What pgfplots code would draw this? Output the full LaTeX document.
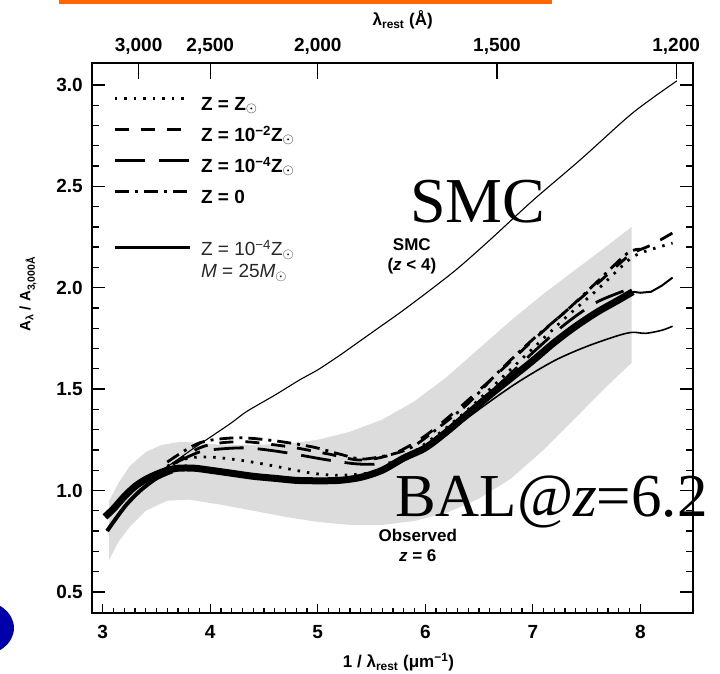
\documentclass[border=0pt]{standalone}
\usepackage{fontspec}
\setmainfont{Liberation Sans}
\newfontfamily\timesf{Liberation Serif}
\usepackage{pgfplots}
\usepackage{pgfplotstable}
\pgfplotsset{compat=1.18}
\definecolor{bandgray}{RGB}{220,220,220}
\definecolor{orangebar}{RGB}{255,102,0}
\definecolor{blueblob}{RGB}{0,0,170}
\newcommand\tk{\fontsize{19}{22}\selectfont\bfseries}
\newcommand\sm{\fontsize{17}{20}\selectfont\bfseries}
\newcommand\lb{\fontsize{17}{20}\selectfont\bfseries}

\pgfplotstableread{
x y
3.06 0.95
3.15 1.04
3.25 1.12
3.40 1.19
3.55 1.225
3.72 1.24
3.90 1.235
4.10 1.225
4.40 1.225
4.70 1.23
5.00 1.25
5.30 1.29
5.60 1.35
5.90 1.44
6.20 1.56
6.50 1.70
6.80 1.84
7.10 1.97
7.40 2.09
7.70 2.21
7.92 2.30
7.92 1.63
7.70 1.52
7.40 1.36
7.10 1.20
6.80 1.06
6.50 0.96
6.20 0.89
5.90 0.85
5.60 0.83
5.30 0.83
5.00 0.845
4.70 0.87
4.40 0.90
4.10 0.93
3.80 0.955
3.60 0.95
3.40 0.90
3.25 0.82
3.15 0.75
3.06 0.66
}\bandtab

\pgfplotstableread{
x y
3.55 1.10
3.69 1.15
3.85 1.21
4.02 1.27
4.20 1.335
4.34 1.39
4.60 1.47
4.83 1.545
5.00 1.595
5.20 1.665
5.40 1.74
5.60 1.815
5.76 1.875
6.00 1.97
6.29 2.09
6.60 2.235
7.00 2.43
7.44 2.63
7.88 2.84
8.10 2.93
8.34 3.02
}\smctab

\pgfplotstableread{
x y
3.02 0.87
3.10 0.91
3.20 0.97
3.30 1.02
3.40 1.055
3.50 1.08
3.60 1.10
3.70 1.11
3.85 1.11
4.00 1.10
4.20 1.085
4.40 1.07
4.60 1.06
4.80 1.05
5.00 1.048
5.20 1.05
5.40 1.065
5.60 1.10
5.80 1.16
6.00 1.21
6.20 1.29
6.40 1.38
6.60 1.47
6.80 1.555
7.00 1.64
7.20 1.73
7.40 1.81
7.60 1.88
7.80 1.94
7.93 1.98
}\bundletab

\pgfplotstableread{
x y
3.04 0.80
3.12 0.86
3.22 0.93
3.35 1.00
3.50 1.06
3.65 1.095
}\fantab

\pgfplotstableread{
x y
7.93 1.98
8.00 1.975
8.10 1.98
8.20 2.01
8.30 2.05
}\tailtab

\pgfplotstableread{
x y
6.00 1.20
6.50 1.40
6.85 1.53
7.20 1.64
7.50 1.71
7.80 1.765
7.93 1.78
8.05 1.775
8.20 1.79
8.30 1.81
}\lowtab

\pgfplotstableread{
x y
3.60 1.12
3.80 1.16
4.00 1.165
4.27 1.15
4.50 1.13
4.65 1.115
4.95 1.085
5.20 1.075
5.50 1.09
5.80 1.16
6.10 1.27
6.40 1.40
6.70 1.55
7.00 1.70
7.30 1.85
7.60 1.99
7.90 2.14
8.05 2.18
8.30 2.22
}\soltab

\pgfplotstableread{
x y
3.65 1.13
3.90 1.21
4.10 1.235
4.34 1.24
4.60 1.225
4.80 1.21
5.10 1.18
5.40 1.15
5.70 1.18
6.00 1.27
6.30 1.40
6.70 1.59
7.00 1.74
7.32 1.89
7.60 2.02
7.90 2.16
8.10 2.21
8.30 2.27
}\dashtab

\pgfplotstableread{
x y
3.65 1.13
3.90 1.19
4.10 1.205
4.34 1.21
4.60 1.195
4.83 1.175
5.10 1.15
5.40 1.13
5.70 1.14
6.00 1.22
6.30 1.34
6.70 1.53
7.00 1.68
7.30 1.82
7.60 1.93
7.93 2.00
}\ldashtab

\pgfplotstableread{
x y
3.60 1.14
3.90 1.235
4.25 1.26
4.60 1.245
4.95 1.215
5.20 1.18
5.42 1.155
5.70 1.18
5.88 1.215
6.10 1.30
6.40 1.43
6.70 1.595
7.00 1.745
7.32 1.89
7.60 2.03
7.88 2.17
8.00 2.19
}\zerotab

\begin{document}
\begin{tikzpicture}
\path[use as bounding box] (-92pt,-61pt) rectangle (628pt,613pt);
\clip (-92pt,-61pt) rectangle (628pt,613pt);
\fill[orangebar] (-33pt,609pt) rectangle (460pt,613pt);
\fill[blueblob] (-114pt,-15pt) ellipse [x radius=36pt, y radius=28pt];

\pgfplotsset{
  common/.style={
    at={(0pt,0pt)}, anchor=south west, scale only axis,
    width=601pt, height=550pt,
    xmin=2.9, xmax=8.49, ymin=0.396, ymax=3.108,
    tick align=inside,
    tick style={line width=1.3pt, black},
    tick label style={font=\tk, inner sep=0pt},
    /pgf/number format/assume math mode=true,
    legend cell align=left,
    legend image code/.code={\path[draw=none] (0pt,0pt) -- (75pt,0pt); \draw[##1] (0pt,7pt) -- (75pt,7pt);},
  },
  dotst/.style={black, line width=2.8pt, dash pattern=on 2.5pt off 7pt},
  dashst/.style={black, line width=2.8pt, dash pattern=on 14pt off 12pt},
  ldashst/.style={black, line width=2.8pt, dash pattern=on 30pt off 14pt},
  dotdashst/.style={black, line width=2.8pt, dash pattern=on 14pt off 6pt on 3pt off 6pt},
}

\begin{axis}[common, clip=false,
  axis line style={line width=1.5pt},
  xtick=\empty,
  ytick={0.5,1,1.5,2,2.5,3}, minor y tick num=4,
  major tick length=13pt, minor tick length=7pt,
  yticklabel shift=9pt,
  yticklabel style={/pgf/number format/.cd, fixed, fixed zerofill, precision=1},
  ylabel={A\textsubscript{λ} / A\textsubscript{3,000Å}},
  ylabel style={at={(rel axis cs:-0.1065,0.58)}, anchor=center, font=\fontsize{15}{18}\selectfont\bfseries},
  legend style={draw=none, fill=none, at={(rel axis cs:0.035,0.938)}, anchor=north west,
    font=\tk, inner sep=0pt, row sep=14pt,
    nodes={inner sep=0pt, text height=13pt, text depth=4pt},
    /tikz/every odd column/.append style={column sep=10pt}},
]
\addplot[fill=bandgray, draw=none, forget plot] table {\bandtab} -- cycle;
\addplot[black, line width=1.1pt, smooth, forget plot] table {\smctab};
\addplot[black, line width=7pt, smooth, line join=round, forget plot] table {\bundletab};
\addplot[black, line width=4pt, smooth, forget plot] table {\fantab};
\addplot[black, line width=2pt, forget plot] table {\tailtab};
\addplot[black, line width=1.6pt, smooth, forget plot] table {\lowtab};
\addplot[dotst, smooth] table {\soltab};
\addlegendentry{Z = Z$_{\odot}$}
\addplot[dashst, smooth] table {\dashtab};
\addlegendentry{Z = 10\textsuperscript{−2}Z$_{\odot}$}
\addplot[ldashst, smooth] table {\ldashtab};
\addlegendentry{Z = 10\textsuperscript{−4}Z$_{\odot}$}
\addplot[dotdashst, smooth] table {\zerotab};
\addlegendentry{Z = 0}

\node[anchor=base west, inner sep=0pt, text depth=0pt, font=\timesf\fontsize{64}{70}\selectfont] at (axis cs:5.857,2.322) {SMC};
\node[anchor=base west, inner sep=0pt, font=\timesf\fontsize{61}{68}\selectfont] at (axis cs:5.717,0.870) {BAL@\textit{z}=6.2};
\node[align=center, font=\sm, inner sep=0pt] at (axis cs:5.875,2.155) {SMC\\(\textit{z} < 4)};
\node[align=center, font=\sm, inner sep=0pt] at (axis cs:5.93,0.727) {Observed\\\textit{z} = 6};
\end{axis}

\begin{axis}[common,
  axis x line*=top, hide y axis,
  x axis line style={-, line width=1.5pt},
  xtick={3.33333,4,5,6.66667,8.33333},
  xticklabels={{3,000},{2,500},{2,000},{1,500},{1,200}},
  minor x tick num=0, major tick length=16pt,
  xticklabel shift=8pt,
  xlabel={λ\textsubscript{rest} (Å)},
  xlabel style={at={(rel axis cs:0.517,1.078)}, anchor=center, font=\lb},
  legend style={draw=none, fill=none, at={(rel axis cs:0.035,0.678)}, anchor=north west,
    font=\fontsize{19}{22}\selectfont, text=black!85, inner sep=0pt,
    nodes={inner sep=0pt},
    /tikz/every odd column/.append style={column sep=10pt}},
]
\addlegendimage{black, line width=2.8pt}
\addlegendentry{\begin{tabular}{@{}l@{}}Z = 10\textsuperscript{−4}Z$_{\odot}$\\\textit{M} = 25\textit{M}$_{\odot}$\end{tabular}}
\end{axis}

\begin{axis}[common,
  axis x line*=bottom, hide y axis,
  x axis line style={-, line width=1.5pt},
  xtick={3,4,5,6,7,8}, minor x tick num=9,
  major tick length=9pt, minor tick length=5pt,
  xticklabel shift=12pt,
  xlabel={1 / λ\textsubscript{rest} (μm\textsuperscript{−1})},
  xlabel style={at={(rel axis cs:0.51,-0.089)}, anchor=center, font=\lb},
]
\end{axis}
\end{tikzpicture}
\end{document}
